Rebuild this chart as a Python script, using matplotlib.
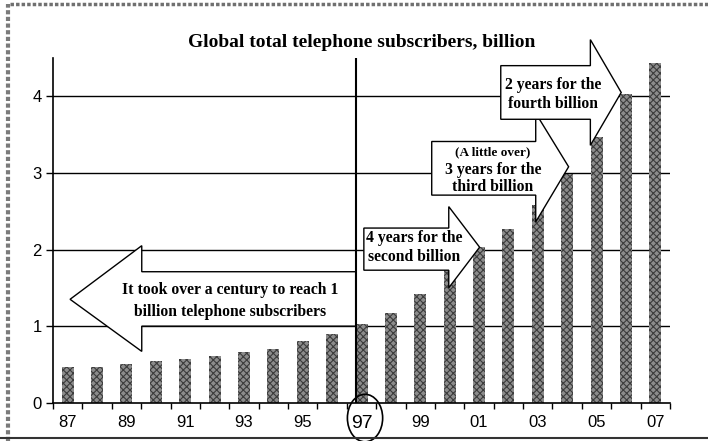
import matplotlib
matplotlib.use('Agg')
import matplotlib.pyplot as plt
from matplotlib.patches import Polygon, Ellipse
from matplotlib.lines import Line2D
from matplotlib import font_manager

years = ['87', '88', '89', '90', '91', '92', '93', '94', '95', '96',
         '97', '98', '99', '00', '01', '02', '03', '04', '05', '06', '07']
subscribers = [0.46, 0.47, 0.50, 0.54, 0.57, 0.61, 0.66, 0.70, 0.80, 0.90,
               1.03, 1.17, 1.42, 1.75, 2.03, 2.27, 2.58, 2.98, 3.47, 4.03, 4.43]
yticks = [0, 1, 2, 3, 4]

title = 'Global total telephone subscribers, billion'
notes = [
    ['It took over a century to reach 1', 'billion telephone subscribers'],
    ['4 years for the', 'second billion'],
    ['3 years for the', 'third billion'],
    ['2 years for the', 'fourth billion'],
]
small_note = '(A little over)'

names = {f.name for f in font_manager.fontManager.ttflist}
tick_font = 'Liberation Sans Narrow' if 'Liberation Sans Narrow' in names else 'Liberation Sans'
serif = 'Liberation Serif'

plt.rcParams['hatch.linewidth'] = 0.8

fig = plt.figure(figsize=(7.08, 4.41), dpi=100)
ax = fig.add_axes([0.0749, 0.0868, 0.8714, 0.7817])

x = list(range(len(years)))
ax.bar(x, subscribers, width=0.41, color='#8c8c8c', edgecolor='#3c3c3c',
       hatch='xxxxx', linewidth=0, zorder=2)

ax.set_xlim(-0.5, len(years) - 0.5)
ax.set_ylim(0, 4.5)
ax.set_yticks(yticks)
ax.set_yticklabels([str(v) for v in yticks], fontfamily=tick_font, fontsize=12)
for v in yticks[1:]:
    ax.axhline(v, color='black', lw=1.0, zorder=1)

# labels every second year, small ticks between the bars
ax.set_xticks(x[::2])
ax.set_xticklabels(years[::2], fontfamily=tick_font, fontsize=12)
ax.set_xticks([i - 0.5 for i in range(len(years) + 1)], minor=True)
ax.tick_params(axis='x', which='major', length=0, pad=9)
ax.tick_params(axis='x', which='minor', length=4, width=1, direction='out')
ax.tick_params(axis='y', length=5, width=1, pad=3)

for side in ['top', 'right']:
    ax.spines[side].set_visible(False)
ax.spines['left'].set_linewidth(1.2)
ax.spines['bottom'].set_linewidth(1.2)

# 1997 marker: divider line plus circled label
i97 = years.index('97')
ax.axvline(i97 - 0.19, color='black', lw=1.5, zorder=4)
for lbl in ax.get_xticklabels():
    if lbl.get_text() == '97':
        lbl.set_fontsize(14)
ax.add_patch(Ellipse((i97 + 0.12, -0.2), 1.2, 0.62, transform=ax.transData,
                     fill=False, lw=1.2, clip_on=False, zorder=5))


def arrow(left, right, body_top, body_bot, head_x, head_top, head_bot, tip_x, tip_y, to_right=True):
    if to_right:
        pts = [(left, body_bot), (left, body_top), (head_x, body_top), (head_x, head_top),
               (tip_x, tip_y), (head_x, head_bot), (head_x, body_bot)]
    else:
        pts = [(right, body_top), (head_x, body_top), (head_x, head_top), (tip_x, tip_y),
               (head_x, head_bot), (head_x, body_bot), (right, body_bot)]
    ax.add_patch(Polygon(pts, closed=True, facecolor='white', edgecolor='black',
                         lw=1.0, zorder=6, clip_on=False))


arrow(None, 9.8, 1.71, 1.00, 2.52, 2.05, 0.67, 0.08, 1.35, to_right=False)
arrow(10.08, None, 2.28, 1.73, 12.97, 2.56, 1.50, 14.02, 2.03)
arrow(12.39, None, 3.41, 2.71, 15.93, 3.78, 2.36, 17.05, 3.08)
arrow(14.74, None, 4.40, 3.70, 17.79, 4.74, 3.36, 18.84, 4.05)

txt = dict(family=serif, fontweight='bold', fontsize=11.3, ha='center', va='center', zorder=7)
ax.text(5.52, 1.47, notes[0][0], **txt)
ax.text(5.52, 1.19, notes[0][1], **txt)
ax.text(11.78, 2.15, notes[1][0], **txt)
ax.text(11.78, 1.90, notes[1][1], **txt)
ax.text(14.47, 3.27, small_note, family=serif, fontweight='bold', fontsize=9.5,
        ha='center', va='center', zorder=7)
ax.text(14.47, 3.04, notes[2][0], **txt)
ax.text(14.47, 2.82, notes[2][1], **txt)
ax.text(16.51, 4.15, notes[3][0], **txt)
ax.text(16.51, 3.90, notes[3][1], **txt)

fig.text(0.511, 0.9025, title, family=serif, fontweight='bold', fontsize=14,
         ha='center', va='center')

# scanned page frame
fig.add_artist(Line2D([0.014, 1.0], [0.991, 0.991], transform=fig.transFigure,
                      color='#707070', lw=2.5, dashes=(1, 0.6)))
fig.add_artist(Line2D([0.011, 0.011], [0.0, 0.99], transform=fig.transFigure,
                      color='#7a7a7a', lw=3, dashes=(1, 0.6)))
fig.add_artist(Line2D([0.0, 1.0], [0.006, 0.006], transform=fig.transFigure,
                      color='#333333', lw=1.5))

fig.savefig('out.png', dpi=100)
